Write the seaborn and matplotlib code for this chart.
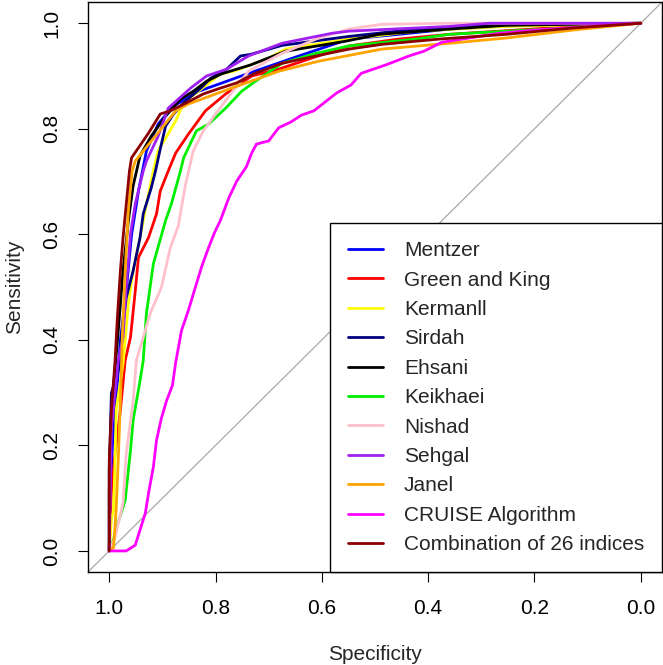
import pandas as pd
import matplotlib
matplotlib.use("Agg")
import matplotlib.pyplot as plt
import seaborn as sns

# ROC curves: (specificity, sensitivity) vertices
methods = ["Mentzer", "Green and King", "Kermanll", "Sirdah", "Ehsani", "Keikhaei",
           "Nishad", "Sehgal", "Janel", "CRUISE Algorithm", "Combination of 26 indices"]
colors = ["#0000FF", "#FF0000", "#FFFF00", "#000080", "#000000", "#00EE00",
          "#FFC0CB", "#A020F0", "#FFA500", "#FF00FF", "#8B0000"]

mentzer_spec = [1.0, 0.998, 0.994, 0.987, 0.979, 0.968, 0.958, 0.945, 0.930, 0.908, 0.879,
                0.832, 0.779, 0.738, 0.643, 0.549, 0.455, 0.360, 0.266, 0.172, 0.0]
mentzer_sens = [0.0, 0.096, 0.200, 0.285, 0.399, 0.493, 0.599, 0.682, 0.758, 0.809, 0.843,
                0.871, 0.890, 0.905, 0.938, 0.970, 0.979, 0.989, 0.994, 0.998, 1.0]

green_king_spec = [1.0, 0.998, 0.996, 0.989, 0.979, 0.970, 0.960, 0.951, 0.945, 0.926, 0.911,
                   0.904, 0.889, 0.875, 0.851, 0.819, 0.781, 0.732, 0.681, 0.619, 0.549,
                   0.455, 0.360, 0.266, 0.172, 0.0]
green_king_sens = [0.0, 0.059, 0.110, 0.185, 0.267, 0.361, 0.405, 0.493, 0.556, 0.594, 0.639,
                   0.682, 0.720, 0.754, 0.790, 0.834, 0.866, 0.900, 0.913, 0.934, 0.957,
                   0.970, 0.979, 0.985, 0.991, 1.0]

kermanll_spec = [1.0, 0.996, 0.992, 0.989, 0.987, 0.974, 0.964, 0.955, 0.942, 0.930, 0.917,
                 0.908, 0.875, 0.860, 0.791, 0.766, 0.700, 0.668, 0.549, 0.423, 0.253, 0.0]
kermanll_sens = [0.0, 0.059, 0.078, 0.172, 0.267, 0.355, 0.469, 0.531, 0.594, 0.658, 0.720,
                 0.758, 0.815, 0.849, 0.904, 0.909, 0.934, 0.951, 0.970, 0.985, 0.994, 1.0]

sirdah_spec = [1.0, 1.0, 0.998, 0.996, 0.979, 0.977, 0.968, 0.955, 0.942, 0.936, 0.921,
               0.913, 0.904, 0.894, 0.879, 0.860, 0.828, 0.809, 0.779, 0.753, 0.734,
               0.675, 0.549, 0.423, 0.360, 0.253, 0.0]
sirdah_sens = [0.0, 0.110, 0.223, 0.299, 0.355, 0.405, 0.480, 0.531, 0.594, 0.639, 0.688,
               0.720, 0.762, 0.805, 0.828, 0.849, 0.877, 0.896, 0.913, 0.938, 0.941,
               0.958, 0.975, 0.989, 0.991, 0.998, 1.0]

ehsani_spec = [1.0, 1.0, 0.996, 0.991, 0.983, 0.974, 0.964, 0.955, 0.942, 0.921, 0.894,
               0.866, 0.842, 0.817, 0.789, 0.734, 0.668, 0.555, 0.492, 0.360, 0.253, 0.0]
ehsani_sens = [0.0, 0.153, 0.248, 0.323, 0.418, 0.531, 0.626, 0.692, 0.749, 0.786, 0.824,
               0.856, 0.871, 0.890, 0.904, 0.921, 0.947, 0.966, 0.979, 0.989, 0.996, 1.0]

keikhaei_spec = [1.0, 0.992, 0.983, 0.970, 0.960, 0.955, 0.942, 0.936, 0.930, 0.917, 0.894,
                 0.883, 0.866, 0.860, 0.836, 0.813, 0.781, 0.751, 0.725, 0.675, 0.611,
                 0.549, 0.423, 0.360, 0.253, 0.115, 0.0]
keikhaei_sens = [0.0, 0.021, 0.055, 0.096, 0.191, 0.248, 0.323, 0.361, 0.450, 0.544, 0.626,
                 0.658, 0.720, 0.745, 0.796, 0.809, 0.839, 0.871, 0.890, 0.924, 0.943,
                 0.957, 0.970, 0.979, 0.985, 0.992, 1.0]

nishad_spec = [1.0, 0.989, 0.974, 0.968, 0.955, 0.949, 0.936, 0.923, 0.902, 0.885, 0.870,
               0.857, 0.842, 0.823, 0.800, 0.770, 0.738, 0.675, 0.611, 0.549, 0.487, 0.360, 0.0]
nishad_sens = [0.0, 0.026, 0.091, 0.185, 0.285, 0.361, 0.405, 0.450, 0.499, 0.575, 0.616,
               0.692, 0.758, 0.796, 0.828, 0.868, 0.909, 0.943, 0.970, 0.989, 0.998, 1.0, 1.0]

sehgal_spec = [1.0, 0.998, 0.996, 0.983, 0.974, 0.968, 0.960, 0.951, 0.936, 0.930, 0.908,
               0.889, 0.847, 0.817, 0.779, 0.738, 0.675, 0.581, 0.549, 0.423, 0.360, 0.285, 0.0]
sehgal_sens = [0.0, 0.110, 0.234, 0.361, 0.405, 0.499, 0.601, 0.658, 0.720, 0.739, 0.786,
               0.839, 0.877, 0.900, 0.913, 0.938, 0.962, 0.981, 0.985, 0.991, 0.994, 1.0, 1.0]

janel_spec = [1.0, 0.992, 0.987, 0.983, 0.979, 0.975, 0.970, 0.964, 0.957, 0.951, 0.875,
              0.851, 0.770, 0.681, 0.606, 0.487, 0.360, 0.253, 0.128, 0.0]
janel_sens = [0.0, 0.006, 0.078, 0.172, 0.285, 0.418, 0.531, 0.645, 0.720, 0.739, 0.834,
              0.847, 0.877, 0.909, 0.928, 0.951, 0.962, 0.972, 0.987, 1.0]

cruise_spec = [1.0, 0.968, 0.951, 0.942, 0.932, 0.926, 0.917, 0.911, 0.902, 0.892, 0.881,
               0.875, 0.864, 0.851, 0.840, 0.826, 0.813, 0.802, 0.791, 0.775, 0.760,
               0.742, 0.732, 0.723, 0.700, 0.681, 0.658, 0.638, 0.615, 0.596, 0.572,
               0.545, 0.526, 0.477, 0.436, 0.408, 0.374, 0.323, 0.266, 0.200, 0.096, 0.0]
cruise_sens = [0.0, 0.0, 0.011, 0.040, 0.072, 0.110, 0.159, 0.210, 0.251, 0.285, 0.314,
               0.357, 0.418, 0.456, 0.493, 0.539, 0.575, 0.603, 0.626, 0.669, 0.701,
               0.728, 0.754, 0.771, 0.777, 0.802, 0.813, 0.826, 0.834, 0.849, 0.868,
               0.883, 0.905, 0.922, 0.938, 0.947, 0.964, 0.972, 0.981, 0.987, 0.994, 1.0]

combo_spec = [1.0, 1.0, 0.996, 0.989, 0.985, 0.979, 0.974, 0.962, 0.958, 0.926, 0.904,
              0.885, 0.855, 0.823, 0.791, 0.760, 0.728, 0.675, 0.611, 0.549, 0.487,
              0.379, 0.253, 0.128, 0.0]
combo_sens = [0.0, 0.172, 0.267, 0.361, 0.437, 0.531, 0.594, 0.720, 0.745, 0.792, 0.828,
              0.834, 0.849, 0.866, 0.877, 0.887, 0.904, 0.924, 0.938, 0.951, 0.960,
              0.970, 0.979, 0.991, 1.0]

curves = {
    "Mentzer": (mentzer_spec, mentzer_sens),
    "Green and King": (green_king_spec, green_king_sens),
    "Kermanll": (kermanll_spec, kermanll_sens),
    "Sirdah": (sirdah_spec, sirdah_sens),
    "Ehsani": (ehsani_spec, ehsani_sens),
    "Keikhaei": (keikhaei_spec, keikhaei_sens),
    "Nishad": (nishad_spec, nishad_sens),
    "Sehgal": (sehgal_spec, sehgal_sens),
    "Janel": (janel_spec, janel_sens),
    "CRUISE Algorithm": (cruise_spec, cruise_sens),
    "Combination of 26 indices": (combo_spec, combo_sens),
}

ticks = [1.0, 0.8, 0.6, 0.4, 0.2, 0.0]
tick_labels = ["1.0", "0.8", "0.6", "0.4", "0.2", "0.0"]

rows = []
for name in methods:
    sp, se = curves[name]
    for i, (a, b) in enumerate(zip(sp, se)):
        rows.append({"method": name, "order": i, "Specificity": a, "Sensitivity": b})
df = pd.DataFrame(rows)

sns.set_style("white")
plt.rcParams["font.family"] = ["Liberation Sans", "DejaVu Sans"]

fig = plt.figure(figsize=(6.63, 6.65), dpi=100)
ax = fig.add_axes([0.1327, 0.1398, 0.8658, 0.857])

ax.axline((1, 0), (0, 1), color="#A9A9A9", lw=0.9, zorder=1)
sns.lineplot(data=df, x="Specificity", y="Sensitivity", hue="method", hue_order=methods,
             palette=colors, estimator=None, sort=False, lw=2.0, ax=ax, zorder=2)

ax.set_xlim(1.04, -0.04)
ax.set_ylim(-0.04, 1.04)
ax.set_xticks(ticks)
ax.set_xticklabels(tick_labels)
ax.set_yticks(ticks)
ax.set_yticklabels(tick_labels, rotation=90, va="center")
ax.tick_params(axis="both", direction="out", length=7.2, width=0.8, pad=12, labelsize=15,
               colors="black", bottom=True, left=True)
for s in ax.spines.values():
    s.set_color("black")
    s.set_linewidth(1.0)
ax.set_xlabel("Specificity", fontsize=15, labelpad=20)
ax.set_ylabel("Sensitivity", fontsize=15, labelpad=13)

handles, labels = ax.get_legend_handles_labels()
leg = ax.legend(handles, labels, loc="lower right", bbox_to_anchor=(1, 0), borderaxespad=0,
                fontsize=15, frameon=True, fancybox=False, framealpha=1, edgecolor="black",
                handlelength=1.7, handletextpad=1.0, labelspacing=0.5, borderpad=0.85)
leg.get_frame().set_linewidth(1.0)
for line in leg.get_lines():
    line.set_linewidth(2.0)

fig.savefig("out.png", dpi=100)
